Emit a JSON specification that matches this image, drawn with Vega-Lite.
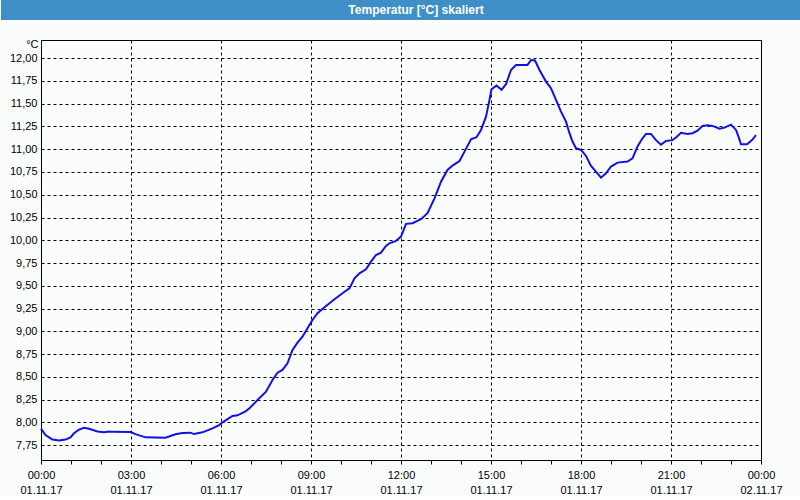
{
  "$schema": "https://vega.github.io/schema/vega-lite/v6.json",
  "padding": 0,
  "spacing": 20,
  "bounds": "flush",
  "center": true,
  "background": "#fbfdfc",
  "config": {
    "view": {"stroke": "#000000", "strokeWidth": 1},
    "font": "Liberation Sans"
  },
  "vconcat": [
    {
      "width": 800,
      "height": 20,
      "view": {"fill": "#3d8fc5", "stroke": null},
      "data": {"values": [{"label": "Temperatur [°C] skaliert"}]},
      "mark": {"type": "text", "color": "#ffffff", "fontWeight": "bold", "fontSize": 12, "dx": 15, "baseline": "middle"},
      "encoding": {"text": {"field": "label", "type": "nominal"}}
    },
    {
      "width": 720,
      "height": 420,
      "data": {"values": [
        {"t": "2017-11-01T00:00", "v": 7.93},
        {"t": "2017-11-01T00:09", "v": 7.86},
        {"t": "2017-11-01T00:23", "v": 7.81},
        {"t": "2017-11-01T00:36", "v": 7.80},
        {"t": "2017-11-01T00:49", "v": 7.81},
        {"t": "2017-11-01T00:59", "v": 7.835},
        {"t": "2017-11-01T01:06", "v": 7.88},
        {"t": "2017-11-01T01:16", "v": 7.92},
        {"t": "2017-11-01T01:26", "v": 7.94},
        {"t": "2017-11-01T01:36", "v": 7.93},
        {"t": "2017-11-01T01:53", "v": 7.90},
        {"t": "2017-11-01T02:06", "v": 7.89},
        {"t": "2017-11-01T02:16", "v": 7.90},
        {"t": "2017-11-01T02:23", "v": 7.895},
        {"t": "2017-11-01T02:59", "v": 7.893},
        {"t": "2017-11-01T03:09", "v": 7.87},
        {"t": "2017-11-01T03:29", "v": 7.835},
        {"t": "2017-11-01T04:09", "v": 7.83},
        {"t": "2017-11-01T04:29", "v": 7.868},
        {"t": "2017-11-01T04:43", "v": 7.882},
        {"t": "2017-11-01T04:59", "v": 7.886},
        {"t": "2017-11-01T05:06", "v": 7.871},
        {"t": "2017-11-01T05:23", "v": 7.89},
        {"t": "2017-11-01T05:43", "v": 7.934},
        {"t": "2017-11-01T05:56", "v": 7.97},
        {"t": "2017-11-01T06:03", "v": 8.00},
        {"t": "2017-11-01T06:23", "v": 8.07},
        {"t": "2017-11-01T06:33", "v": 8.077},
        {"t": "2017-11-01T06:49", "v": 8.12},
        {"t": "2017-11-01T06:57", "v": 8.154},
        {"t": "2017-11-01T07:13", "v": 8.245},
        {"t": "2017-11-01T07:30", "v": 8.336},
        {"t": "2017-11-01T07:43", "v": 8.465},
        {"t": "2017-11-01T07:53", "v": 8.545},
        {"t": "2017-11-01T08:03", "v": 8.575},
        {"t": "2017-11-01T08:13", "v": 8.648},
        {"t": "2017-11-01T08:23", "v": 8.795},
        {"t": "2017-11-01T08:33", "v": 8.875},
        {"t": "2017-11-01T08:43", "v": 8.94},
        {"t": "2017-11-01T08:53", "v": 9.033},
        {"t": "2017-11-01T09:03", "v": 9.124},
        {"t": "2017-11-01T09:13", "v": 9.198},
        {"t": "2017-11-01T09:27", "v": 9.264},
        {"t": "2017-11-01T09:47", "v": 9.352},
        {"t": "2017-11-01T10:07", "v": 9.435},
        {"t": "2017-11-01T10:17", "v": 9.473},
        {"t": "2017-11-01T10:27", "v": 9.582},
        {"t": "2017-11-01T10:37", "v": 9.637},
        {"t": "2017-11-01T10:50", "v": 9.681},
        {"t": "2017-11-01T11:00", "v": 9.765},
        {"t": "2017-11-01T11:10", "v": 9.838},
        {"t": "2017-11-01T11:20", "v": 9.864},
        {"t": "2017-11-01T11:30", "v": 9.937},
        {"t": "2017-11-01T11:37", "v": 9.967},
        {"t": "2017-11-01T11:50", "v": 9.993},
        {"t": "2017-11-01T12:00", "v": 10.04},
        {"t": "2017-11-01T12:10", "v": 10.18},
        {"t": "2017-11-01T12:23", "v": 10.187},
        {"t": "2017-11-01T12:40", "v": 10.231},
        {"t": "2017-11-01T12:53", "v": 10.297},
        {"t": "2017-11-01T13:07", "v": 10.46},
        {"t": "2017-11-01T13:20", "v": 10.644},
        {"t": "2017-11-01T13:33", "v": 10.772},
        {"t": "2017-11-01T13:43", "v": 10.82},
        {"t": "2017-11-01T13:57", "v": 10.871},
        {"t": "2017-11-01T14:07", "v": 10.974},
        {"t": "2017-11-01T14:20", "v": 11.11},
        {"t": "2017-11-01T14:31", "v": 11.132},
        {"t": "2017-11-01T14:40", "v": 11.212},
        {"t": "2017-11-01T14:50", "v": 11.358},
        {"t": "2017-11-01T14:57", "v": 11.542},
        {"t": "2017-11-01T15:01", "v": 11.659},
        {"t": "2017-11-01T15:11", "v": 11.699},
        {"t": "2017-11-01T15:21", "v": 11.652},
        {"t": "2017-11-01T15:30", "v": 11.714},
        {"t": "2017-11-01T15:40", "v": 11.871},
        {"t": "2017-11-01T15:50", "v": 11.926},
        {"t": "2017-11-01T16:13", "v": 11.926},
        {"t": "2017-11-01T16:20", "v": 11.98},
        {"t": "2017-11-01T16:28", "v": 11.975},
        {"t": "2017-11-01T16:37", "v": 11.87},
        {"t": "2017-11-01T16:50", "v": 11.743},
        {"t": "2017-11-01T17:00", "v": 11.67},
        {"t": "2017-11-01T17:10", "v": 11.542},
        {"t": "2017-11-01T17:20", "v": 11.413},
        {"t": "2017-11-01T17:30", "v": 11.303},
        {"t": "2017-11-01T17:37", "v": 11.176},
        {"t": "2017-11-01T17:43", "v": 11.084},
        {"t": "2017-11-01T17:50", "v": 11.011},
        {"t": "2017-11-01T18:00", "v": 10.992},
        {"t": "2017-11-01T18:10", "v": 10.926},
        {"t": "2017-11-01T18:20", "v": 10.816},
        {"t": "2017-11-01T18:30", "v": 10.754},
        {"t": "2017-11-01T18:40", "v": 10.688},
        {"t": "2017-11-01T18:50", "v": 10.736},
        {"t": "2017-11-01T19:00", "v": 10.81},
        {"t": "2017-11-01T19:13", "v": 10.853},
        {"t": "2017-11-01T19:33", "v": 10.864},
        {"t": "2017-11-01T19:43", "v": 10.90},
        {"t": "2017-11-01T19:53", "v": 11.03},
        {"t": "2017-11-01T20:03", "v": 11.12},
        {"t": "2017-11-01T20:10", "v": 11.168},
        {"t": "2017-11-01T20:20", "v": 11.168},
        {"t": "2017-11-01T20:30", "v": 11.10},
        {"t": "2017-11-01T20:40", "v": 11.05},
        {"t": "2017-11-01T20:50", "v": 11.09},
        {"t": "2017-11-01T21:03", "v": 11.10},
        {"t": "2017-11-01T21:10", "v": 11.128},
        {"t": "2017-11-01T21:20", "v": 11.18},
        {"t": "2017-11-01T21:33", "v": 11.168},
        {"t": "2017-11-01T21:43", "v": 11.176},
        {"t": "2017-11-01T21:53", "v": 11.204},
        {"t": "2017-11-01T22:03", "v": 11.256},
        {"t": "2017-11-01T22:13", "v": 11.264},
        {"t": "2017-11-01T22:23", "v": 11.256},
        {"t": "2017-11-01T22:37", "v": 11.226},
        {"t": "2017-11-01T22:47", "v": 11.237},
        {"t": "2017-11-01T23:00", "v": 11.27},
        {"t": "2017-11-01T23:10", "v": 11.212},
        {"t": "2017-11-01T23:15", "v": 11.138},
        {"t": "2017-11-01T23:20", "v": 11.055},
        {"t": "2017-11-01T23:32", "v": 11.055},
        {"t": "2017-11-01T23:42", "v": 11.10},
        {"t": "2017-11-01T23:50", "v": 11.154},
        {"t": "2017-11-02T00:00", "v": null}
      ]},
      "mark": {"type": "line", "color": "#1010e8", "strokeWidth": 2},
      "encoding": {
        "x": {
          "field": "t",
          "type": "temporal",
          "scale": {"nice": false},
          "axis": {
            "title": null,
            "labelExpr": "hours(datum.value) % 3 == 0 ? [timeFormat(datum.value, '%H:%M'), timeFormat(datum.value, '%d.%m.%y')] : ''",
            "labelFlush": false,
            "labelOverlap": false,
            "labelFontSize": 11,
            "labelColor": "#000000",
            "labelPadding": 5,
            "labelLineHeight": 15,
            "tickSize": 4,
            "tickColor": "#000000",
            "domainColor": "#000000",
            "grid": true,
            "gridColor": "#000000",
            "gridDash": [3, 3],
            "gridOpacity": {"condition": {"test": "hours(datum.value) % 3 == 0", "value": 1}, "value": 0}
          }
        },
        "y": {
          "field": "v",
          "type": "quantitative",
          "scale": {"domain": [7.586, 12.2], "nice": false, "zero": false},
          "axis": {
            "title": "°C",
            "titleAngle": 0,
            "titleAlign": "right",
            "titleX": -3,
            "titleY": 9,
            "titlePadding": 0,
            "titleFontSize": 11,
            "titleFontWeight": "normal",
            "titleColor": "#000000",
            "minExtent": 40,
            "maxExtent": 40,
            "values": [7.75, 8, 8.25, 8.5, 8.75, 9, 9.25, 9.5, 9.75, 10, 10.25, 10.5, 10.75, 11, 11.25, 11.5, 11.75, 12],
            "labelExpr": "replace(format(datum.value, '.2f'), '.', ',')",
            "labelFontSize": 11,
            "labelColor": "#000000",
            "labelPadding": 4,
            "ticks": false,
            "domainColor": "#000000",
            "gridColor": "#000000",
            "gridDash": [3, 3]
          }
        }
      }
    }
  ]
}
